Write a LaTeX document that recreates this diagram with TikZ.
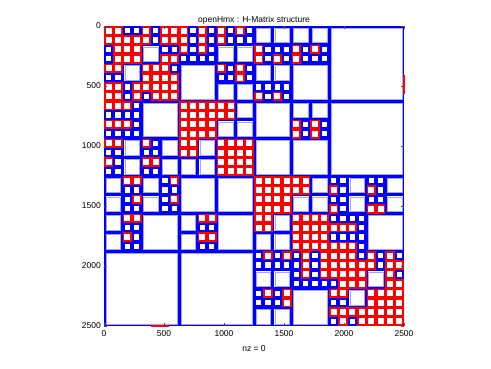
\documentclass[tikz,border=0pt]{standalone}
\usepackage{fontspec}
\setmainfont{Liberation Sans}
\definecolor{mblue}{RGB}{0,0,255}
\definecolor{mred}{RGB}{255,0,0}
\definecolor{lblue}{RGB}{165,165,255}
\newcommand\hmxred[2]{\draw[redc] ({104+9.375*(#2)+0.85},{26+9.375*(#1)+0.85}) rectangle ++(7.675,7.675);}
\newcommand\hmxblue[2]{\draw[blueone] ({104+9.375*(#2)+1.05},{26+9.375*(#1)+1.05}) rectangle ++(7.275,7.275);}
\newcommand\hmxblk[3]{\draw[bluebig] ({104+9.375*(#2)+0.75},{26+9.375*(#1)+0.75}) rectangle ++({9.375*(#3)-1.5},{9.375*(#3)-1.5});
  \draw[bluein] ({104+9.375*(#2)+2.1},{26+9.375*(#1)+2.1}) rectangle ++({9.375*(#3)-4.2},{9.375*(#3)-4.2});}
\begin{document}
\begin{tikzpicture}[x=1pt,y=-1pt,
  redc/.style={draw=mred,line width=1.7pt,fill=white},
  blueone/.style={draw=mblue,line width=2.1pt,fill=white},
  bluebig/.style={draw=mblue,line width=1.5pt,fill=white},
  bluein/.style={draw=lblue,line width=0.6pt},
  tickmark/.style={draw=black!70,line width=0.5pt},
  artifact/.style={draw=mred,line width=2pt},
  lbl/.style={font=\fontsize{8.5}{10}\selectfont,inner sep=0pt,text=black}]
\fill[white] (0,0) rectangle (491,368);
\useasboundingbox (0,0) rectangle (491,368);
% low-rank blocks (larger than one leaf)
\foreach \r/\c/\s in {2/4/2,4/8/4,2/12/2,2/14/2,6/12/2,6/14/2,0/16/2,0/18/2,0/20/2,0/22/2,
  4/16/2,4/18/2,4/20/4,8/14/2,10/12/2,10/14/2,8/16/4,12/16/4,8/20/2,12/20/4,8/22/2,
  0/24/8,8/24/8,16/22/2,18/20/2,18/22/2,16/26/2,16/30/2,18/26/2,18/30/2,20/28/4,26/28/2}
  {\hmxblk{\r}{\c}{\s}\hmxblk{\c}{\r}{\s}}
% low-rank leaf blocks
\foreach \r/\cl in {0/{2,3,5,9,11,13,15},1/{5,9,11,13,14,15},2/{6,7,9,11,17,18,19,21,23},
  3/{8,9,10,11,17,19,21,22,23},4/{7,13,15},5/{12,13,15},6/{16,17,18,19},7/{17,19},
  10/{21,23},11/{21,23},16/{24,25,28,29},17/{25,29},18/{24,25,28,29},19/{25},
  20/{24,25,26,27},21/{27},22/{24,25,26,27},23/{27},24/{27,29,31},25/{29},26/{31}}
  {\foreach \c in \cl {\hmxblue{\r}{\c}\hmxblue{\c}{\r}}}
% dense leaf blocks
\foreach \r/\cl in {0/{0,1,4,6,7,8,10,12,14},1/{1,2,3,4,6,7,8,10,12},2/{2,3,8,10,16,20,22},
  3/{3,6,7,16,18,20},4/{4,5,6,12,14},5/{5,6,7,14},6/{6,7},7/{7,16,18},
  8/{8,9,10,11,12,13},9/{9,10,11,12,13},10/{10,11,20,22},11/{11,20,22},
  12/{12,13,14,15},13/{13,14,15},14/{14,15},15/{15},
  16/{16,17,18,19,20,21},17/{17,18,19,20,21,24,28},18/{18,19},19/{19,24,28,29},
  20/{20,21,22,23},21/{21,22,23,24,25,26},22/{22,23},23/{23,24,25,26},
  24/{24,25,26,28,30},25/{25,26,27,28,30,31},26/{26,27,30},27/{27,30,31},
  28/{28,29,30,31},29/{29,30,31},30/{30,31},31/{31}}
  {\foreach \c in \cl {\hmxred{\r}{\c}\hmxred{\c}{\r}}}
% red marks on the axes
\coordinate (ab1) at (151,326.2);
\coordinate (ab2) at (169,326.2);
\coordinate (ar1) at (403.6,74.5);
\coordinate (ar2) at (403.6,93.5);
\draw[artifact] (ab1) -- (ab2);
\draw[artifact] (ar1) -- (ar2);
% ticks
\foreach \i in {0,...,5}{
  \draw[tickmark] (104,{26+60*\i}) -- ++(3,0);
  \draw[tickmark] (404,{26+60*\i}) -- ++(-3,0);
  \draw[tickmark] ({104+60*\i},326) -- ++(0,-3);
  \draw[tickmark] ({104+60*\i},26) -- ++(0,3);
}
% labels
\foreach \v/\i in {0/0,500/1,1000/2,1500/3,2000/4,2500/5}{
  \node[lbl,anchor=east] (yl\i) at (101,{26+60*\i}) {\v};
  \node[lbl,anchor=north] (xl\i) at ({104+60*\i},330.5) {\v};
}
\node[lbl,anchor=base] (title) at (254,22) {openHmx : H-Matrix structure};
\node[lbl] (nz) at (254,349) {nz = 0};
\end{tikzpicture}
\end{document}
